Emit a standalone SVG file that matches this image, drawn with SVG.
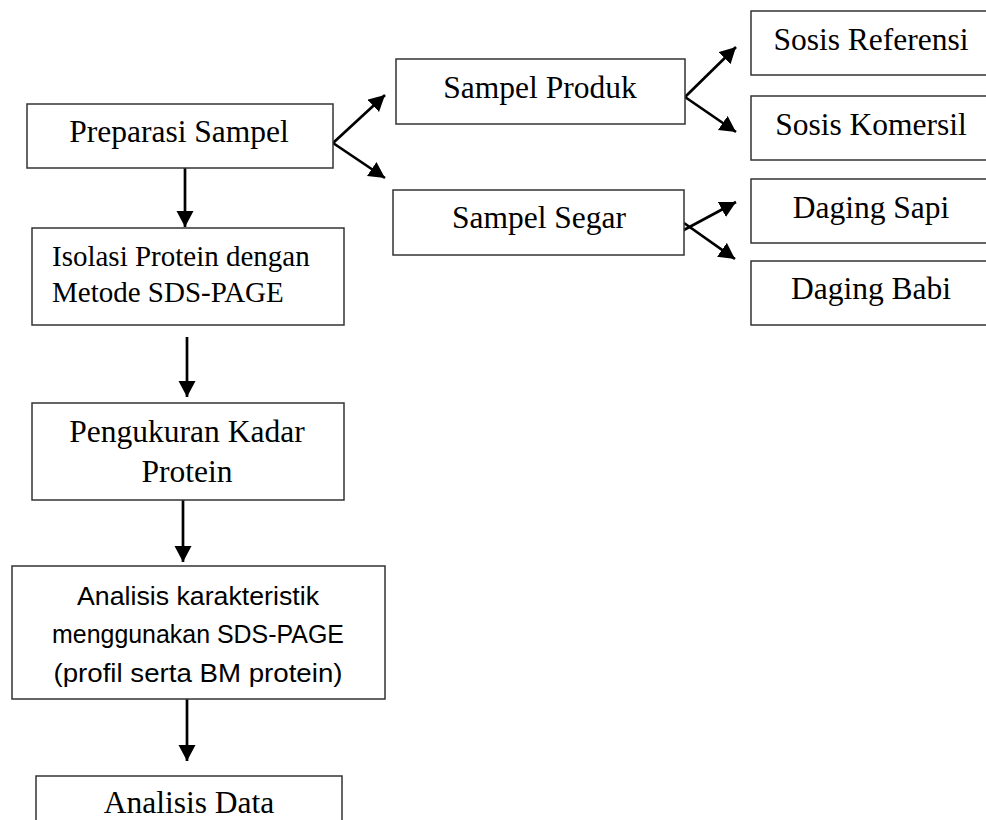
<svg xmlns="http://www.w3.org/2000/svg" width="986" height="820" viewBox="0 0 986 820">
<style>
.box{fill:#fff;stroke:#333;stroke-width:1.5}
.t{font-family:"Liberation Serif","Times New Roman",serif;font-size:31.5px;fill:#000;text-anchor:middle}
.ts{font-family:"Liberation Serif","Times New Roman",serif;font-size:29px;fill:#000}
.tc{font-family:"Liberation Sans",Arial,sans-serif;font-size:25px;fill:#000;text-anchor:middle}
.c{stroke:#000;stroke-width:2.7;fill:none;marker-end:url(#ah)}
</style>
<defs>
<marker id="ah" markerUnits="userSpaceOnUse" markerWidth="20" markerHeight="20" refX="16" refY="8.5" orient="auto">
<path d="M0,0 L16,8.5 L0,17 Z" fill="#000"/>
</marker>
</defs>
<rect width="986" height="820" fill="#fff"/>
<g id="connectors">
<line class="c" x1="185" y1="168" x2="185" y2="227"/>
<line class="c" x1="333" y1="143" x2="385" y2="95"/>
<line class="c" x1="333" y1="143" x2="385" y2="178"/>
<line class="c" x1="685" y1="97" x2="736" y2="47"/>
<line class="c" x1="685" y1="97" x2="736" y2="132"/>
<line class="c" x1="682" y1="231" x2="736" y2="202"/>
<line class="c" x1="684" y1="223" x2="735" y2="259"/>
<line class="c" x1="187" y1="337" x2="187" y2="397"/>
<line class="c" x1="183" y1="500" x2="183" y2="562"/>
<line class="c" x1="187" y1="699" x2="187" y2="761"/>
</g>
<g id="preparasi">
<rect class="box" x="27" y="104" width="306" height="64"/>
<text class="t" x="179" y="142">Preparasi Sampel</text>
</g>
<g id="isolasi">
<rect class="box" x="32" y="228" width="312" height="97"/>
<text class="ts" x="52" y="266">Isolasi Protein dengan</text>
<text class="ts" x="52" y="302">Metode SDS-PAGE</text>
</g>
<g id="pengukuran">
<rect class="box" x="32" y="403" width="312" height="97"/>
<text class="t" x="187" y="442">Pengukuran Kadar</text>
<text class="t" x="187" y="482">Protein</text>
</g>
<g id="analisis-karakteristik">
<rect class="box" x="12" y="566" width="373" height="133"/>
<text class="tc" x="198" y="605" textLength="242" lengthAdjust="spacingAndGlyphs">Analisis karakteristik</text>
<text class="tc" x="198" y="643" textLength="292" lengthAdjust="spacingAndGlyphs">menggunakan SDS-PAGE</text>
<text class="tc" x="198" y="682" textLength="289" lengthAdjust="spacingAndGlyphs">(profil serta BM protein)</text>
</g>
<g id="analisis-data">
<rect class="box" x="36" y="776" width="306" height="70"/>
<text class="t" x="189" y="813">Analisis Data</text>
</g>
<g id="sampel-produk">
<rect class="box" x="396" y="59" width="289" height="65"/>
<text class="t" x="540" y="98">Sampel Produk</text>
</g>
<g id="sampel-segar">
<rect class="box" x="393" y="190" width="291" height="65"/>
<text class="t" x="539" y="228">Sampel Segar</text>
</g>
<g id="sosis-referensi">
<rect class="box" x="751" y="11" width="245" height="64"/>
<text class="t" x="871" y="50">Sosis Referensi</text>
</g>
<g id="sosis-komersil">
<rect class="box" x="751" y="96" width="245" height="64"/>
<text class="t" x="871" y="135">Sosis Komersil</text>
</g>
<g id="daging-sapi">
<rect class="box" x="751" y="179" width="245" height="64"/>
<text class="t" x="871" y="218">Daging Sapi</text>
</g>
<g id="daging-babi">
<rect class="box" x="751" y="261" width="245" height="64"/>
<text class="t" x="871" y="299">Daging Babi</text>
</g>
</svg>
